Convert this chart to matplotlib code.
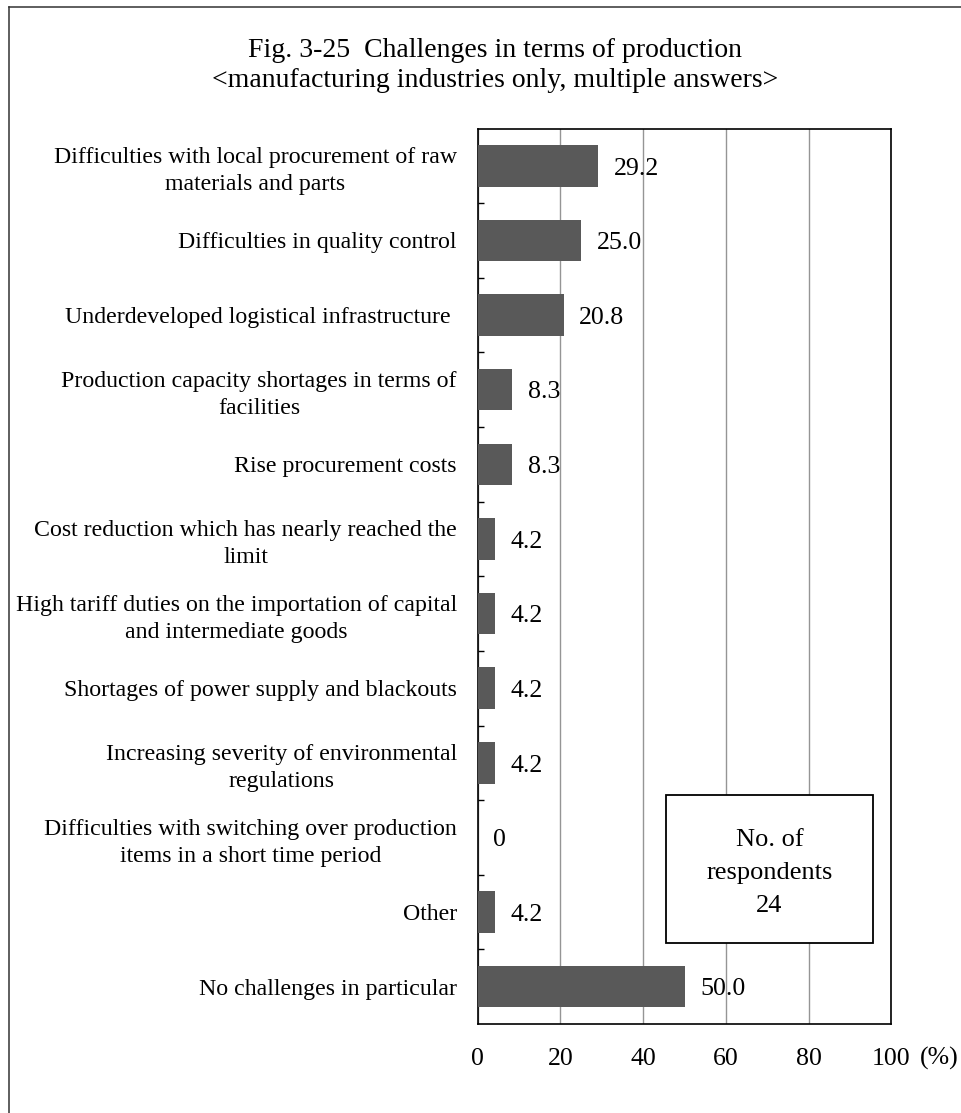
import matplotlib
matplotlib.use("Agg")
import matplotlib.pyplot as plt
from matplotlib.lines import Line2D
from matplotlib.patches import Rectangle

# ---- data ----
categories = [
    "Difficulties with local procurement of raw\nmaterials and parts",
    "Difficulties in quality control",
    "Underdeveloped logistical infrastructure ",
    "Production capacity shortages in terms of\nfacilities",
    "Rise procurement costs",
    "Cost reduction which has nearly reached the\nlimit",
    "High tariff duties on the importation of capital\nand intermediate goods",
    "Shortages of power supply and blackouts",
    "Increasing severity of environmental\nregulations",
    "Difficulties with switching over production\nitems in a short time period",
    "Other",
    "No challenges in particular",
]
values = [29.2, 25.0, 20.8, 8.3, 8.3, 4.2, 4.2, 4.2, 4.2, 0, 4.2, 50.0]
value_labels = ["29.2", "25.0", "20.8", "8.3", "8.3", "4.2", "4.2", "4.2",
                "4.2", "0", "4.2", "50.0"]
x_ticks = [0, 20, 40, 60, 80, 100]
x_tick_labels = ["0", "20", "40", "60", "80", "100"]
title_lines = ["Fig. 3-25  Challenges in terms of production",
               "<manufacturing industries only, multiple answers>"]
box_text = "No. of\nrespondents\n24"

plt.rcParams['font.family'] = ['Liberation Serif', 'DejaVu Serif']

W, H = 961, 1113
fig = plt.figure(figsize=(W / 100, H / 100), dpi=100)
fig.patch.set_facecolor("white")


def fx(px):
    return px / W


def fy(py):
    return 1 - py / H


ax_l, ax_r, ax_t, ax_b = 477.7, 891.3, 128.5, 1024.0
ax = fig.add_axes([fx(ax_l), fy(ax_b), (ax_r - ax_l) / W, (ax_b - ax_t) / H])

ypos = list(range(len(categories)))
ax.barh(ypos, values, height=0.557, color="#595959", zorder=3)
ax.set_xlim(0, 100)
ax.set_ylim(len(categories) - 0.5, -0.5)

ax.set_xticks(x_ticks)
ax.set_xticklabels(x_tick_labels, fontsize=18.6)
ax.tick_params(axis="x", length=0, pad=17.5)
ax.xaxis.grid(True, color="#959595", lw=1.0)
ax.set_axisbelow(True)

ax.set_yticks(ypos)
ax.set_yticklabels(categories, fontsize=17.2, linespacing=1.37,
                   multialignment="center")
ax.tick_params(axis="y", which="major", length=0, pad=15)
ax.set_yticks([i + 0.5 for i in range(len(categories) - 1)], minor=True)
ax.tick_params(axis="y", which="minor", direction="in", length=4.5,
               width=1.0, color="black")

for s in ax.spines.values():
    s.set_color("black")
    s.set_linewidth(1.2)

for i, (v, lbl) in enumerate(zip(values, value_labels)):
    ax.annotate(lbl, (v, i), xytext=(11.2, -2.0), textcoords="offset points",
                ha="left", va="center", fontsize=18.6)

# unit label
fig.text(fx(920), fy(1058), "(%)", ha="left", va="center", fontsize=18.6)

# respondents box
fig.add_artist(Rectangle((fx(666), fy(943)), (873 - 666) / W, (943 - 795) / H,
                         transform=fig.transFigure, facecolor="white",
                         edgecolor="black", lw=1.3, zorder=2))
fig.text(fx(769.5), fy(873), box_text, ha="center", va="center",
         multialignment="center", fontsize=19, linespacing=1.65, zorder=3)

# title
fig.text(fx(495), fy(57), title_lines[0], ha="center", va="baseline", fontsize=20)
fig.text(fx(495), fy(87), title_lines[1], ha="center", va="baseline", fontsize=20)

# outer frame (left and top edges visible)
fig.add_artist(Line2D([fx(9), fx(9)], [fy(7), 0], transform=fig.transFigure,
                      color="#333333", lw=1.1))
fig.add_artist(Line2D([fx(9), 1], [fy(7), fy(7)], transform=fig.transFigure,
                      color="#333333", lw=1.1))

fig.savefig("out.png", dpi=100)
